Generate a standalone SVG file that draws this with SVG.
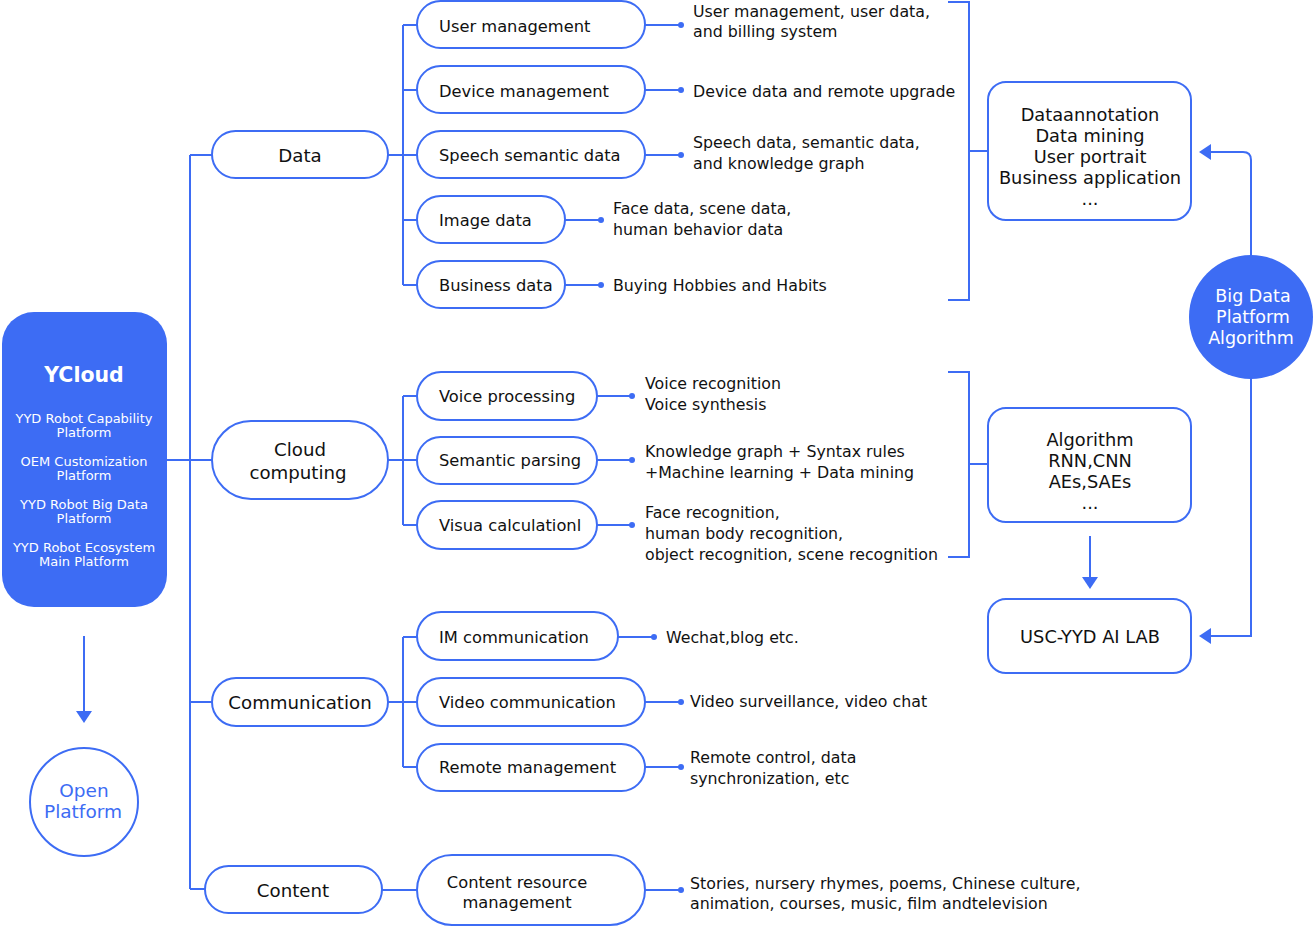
<svg xmlns="http://www.w3.org/2000/svg" width="1314" height="926" viewBox="0 0 1314 926">
<defs>
<style>
.pill{fill:#fff;stroke:#3d6cf4;stroke-width:2}
.box{fill:#fff;stroke:#3d6cf4;stroke-width:2}
.ln{fill:none;stroke:#3d6cf4;stroke-width:2}
.dot{fill:#3d6cf4}
.t{font-family:"DejaVu Sans","Liberation Sans",sans-serif;font-size:15.8px;fill:#111}
.n{font-family:"DejaVu Sans","Liberation Sans",sans-serif;font-size:16.3px;fill:#111}
.L1{font-size:18.2px}
.c{text-anchor:middle}
.w{fill:#fff}
.b{fill:#3d6cf4}
</style>
</defs>
<rect width="1314" height="926" fill="#fff"/>
<g id="connectors">
<path class="ln" d="M167,460 H212 M190,155 V889 M190,155 H212 M190,702 H212 M190,889 H205"/>
<path class="ln" d="M388,155 H417 M403,25 V285 M403,25 H417 M403,90 H417 M403,220 H417 M403,285 H417"/>
<path class="ln" d="M645,25 H681 M645,90 H681 M645,155 H681 M565,220 H601 M565,285 H601"/>
<path class="ln" d="M388,460 H417 M403,396 V525 M403,396 H417 M403,525 H417"/>
<path class="ln" d="M597,396 H632 M597,460 H632 M597,525 H632"/>
<path class="ln" d="M388,702 H417 M403,637 V767 M403,637 H417 M403,767 H417"/>
<path class="ln" d="M618,637 H654 M645,702 H681 M645,767 H681"/>
<path class="ln" d="M382,890 H417 M645,890 H681"/>
<path class="ln" d="M948,2 H969 V300 H948 M969,151 H988"/>
<path class="ln" d="M948,372 H969 V557 H948 M969,464 H988"/>
<path class="ln" d="M84,636 V712"/>
<path d="M76,711 L92,711 L84,723 Z" class="dot"/>
<path class="ln" d="M1090,536 V578"/>
<path d="M1082,577 L1098,577 L1090,589 Z" class="dot"/>
<path class="ln" d="M1251,255 V160 Q1251,152 1243,152 H1210"/>
<path d="M1211,144 L1211,160 L1199,152 Z" class="dot"/>
<path class="ln" d="M1251,379 V636 H1210"/>
<path d="M1211,628 L1211,644 L1199,636 Z" class="dot"/>
<g class="dot">
<circle cx="681" cy="25" r="3"/><circle cx="681" cy="90" r="3"/><circle cx="681" cy="155" r="3"/>
<circle cx="601" cy="220" r="3"/><circle cx="601" cy="285" r="3"/>
<circle cx="632" cy="396" r="3"/><circle cx="632" cy="460" r="3"/><circle cx="632" cy="525" r="3"/>
<circle cx="654" cy="637" r="3"/><circle cx="681" cy="702" r="3"/><circle cx="681" cy="767" r="3"/>
<circle cx="681" cy="890" r="3"/>
</g>
</g>
<g id="ycloud">
<rect x="2" y="312" width="165" height="295" rx="32" class="b"/>
<text class="n c w" x="84" y="382" style="font-size:20.5px;font-weight:bold">YCloud</text>
<g class="n c w" style="font-size:13px">
<text x="84" y="423">YYD Robot Capability</text><text x="84" y="437">Platform</text>
<text x="84" y="466">OEM Customization</text><text x="84" y="480">Platform</text>
<text x="84" y="509">YYD Robot Big Data</text><text x="84" y="523">Platform</text>
<text x="84" y="552">YYD Robot Ecosystem</text><text x="84" y="566">Main Platform</text>
</g>
</g>
<g id="open-platform">
<circle cx="84" cy="802" r="54" class="box"/>
<text class="n c" x="84" y="797" style="fill:#3d6cf4;font-size:18.5px">Open</text>
<text class="n c" x="83" y="818" style="fill:#3d6cf4;font-size:18.5px">Platform</text>
</g>
<g id="data"><rect x="212" y="131" width="176" height="47" rx="23.5" class="pill"/><text class="n c L1" x="300" y="162">Data</text></g>
<g id="cloud"><rect x="212" y="421" width="176" height="78" rx="39" class="pill"/><text class="n c L1" x="300" y="456">Cloud</text><text class="n c L1" x="298" y="479">computing</text></g>
<g id="communication"><rect x="212" y="678" width="176" height="48" rx="24" class="pill"/><text class="n c L1" x="300" y="709">Communication</text></g>
<g id="content"><rect x="205" y="866" width="177" height="47" rx="23.5" class="pill"/><text class="n c L1" x="293" y="897">Content</text></g>

<g id="user-mgmt"><rect x="417" y="1" width="228" height="47" rx="23.5" class="pill"/><text class="n" x="439" y="32">User management</text></g>
<g id="device-mgmt"><rect x="417" y="66" width="228" height="47" rx="23.5" class="pill"/><text class="n" x="439" y="97">Device management</text></g>
<g id="speech"><rect x="417" y="131" width="228" height="47" rx="23.5" class="pill"/><text class="n" x="439" y="161">Speech semantic data</text></g>
<g id="image"><rect x="417" y="196" width="148" height="47" rx="23.5" class="pill"/><text class="n" x="439" y="226">Image data</text></g>
<g id="business"><rect x="417" y="261" width="148" height="47" rx="23.5" class="pill"/><text class="n" x="439" y="291">Business data</text></g>

<g id="voice"><rect x="417" y="372" width="180" height="48" rx="24" class="pill"/><text class="n" x="439" y="402">Voice processing</text></g>
<g id="semantic"><rect x="417" y="437" width="180" height="47" rx="23.5" class="pill"/><text class="n" x="439" y="466">Semantic parsing</text></g>
<g id="visual"><rect x="417" y="501" width="180" height="48" rx="24" class="pill"/><text class="n" x="439" y="531">Visua calculationl</text></g>

<g id="im"><rect x="417" y="612" width="201" height="48" rx="24" class="pill"/><text class="n" x="439" y="643">IM communication</text></g>
<g id="video"><rect x="417" y="678" width="228" height="48" rx="24" class="pill"/><text class="n" x="439" y="708">Video communication</text></g>
<g id="remote"><rect x="417" y="744" width="228" height="47" rx="23.5" class="pill"/><text class="n" x="439" y="773">Remote management</text></g>
<g id="content-res"><rect x="417" y="855" width="228" height="70" rx="35" class="pill"/><text class="n c" x="517" y="888">Content resource</text><text class="n c" x="517" y="908">management</text></g>

<g id="labels" class="t">
<text x="693" y="17">User management, user data,</text><text x="693" y="37">and billing system</text>
<text x="693" y="97">Device data and remote upgrade</text>
<text x="693" y="148">Speech data, semantic data,</text><text x="693" y="169">and knowledge graph</text>
<text x="613" y="214">Face data, scene data,</text><text x="613" y="235">human behavior data</text>
<text x="613" y="291">Buying Hobbies and Habits</text>
<text x="645" y="389">Voice recognition</text><text x="645" y="410">Voice synthesis</text>
<text x="645" y="457">Knowledge graph + Syntax rules</text><text x="645" y="478">+Machine learning + Data mining</text>
<text x="645" y="518">Face recognition,</text><text x="645" y="539">human body recognition,</text><text x="645" y="560">object recognition, scene recognition</text>
<text x="666" y="643">Wechat,blog etc.</text>
<text x="690" y="707">Video surveillance, video chat</text>
<text x="690" y="763">Remote control, data</text><text x="690" y="784">synchronization, etc</text>
<text x="690" y="889">Stories, nursery rhymes, poems, Chinese culture,</text><text x="690" y="909">animation, courses, music, film andtelevision</text>
</g>

<g id="data-apps"><rect x="988" y="82" width="203" height="138" rx="18" class="box"/>
<g class="n c" style="font-size:17.8px"><text x="1090" y="121">Dataannotation</text><text x="1090" y="142">Data mining</text><text x="1090" y="163">User portrait</text><text x="1090" y="184">Business application</text><text x="1090" y="205">...</text></g></g>
<g id="algorithm"><rect x="988" y="408" width="203" height="114" rx="18" class="box"/>
<g class="n c" style="font-size:17.8px"><text x="1090" y="446">Algorithm</text><text x="1090" y="467">RNN,CNN</text><text x="1090" y="488">AEs,SAEs</text><text x="1090" y="509">...</text></g></g>
<g id="ailab"><rect x="988" y="599" width="203" height="74" rx="18" class="box"/><text class="n c" x="1090" y="643" style="font-size:17.8px">USC-YYD AI LAB</text></g>
<g id="bigdata"><circle cx="1251" cy="317" r="62" class="b"/>
<g class="n c w" style="font-size:17.5px"><text x="1253" y="302">Big Data</text><text x="1253" y="323">Platform</text><text x="1251" y="344">Algorithm</text></g></g>
</svg>
